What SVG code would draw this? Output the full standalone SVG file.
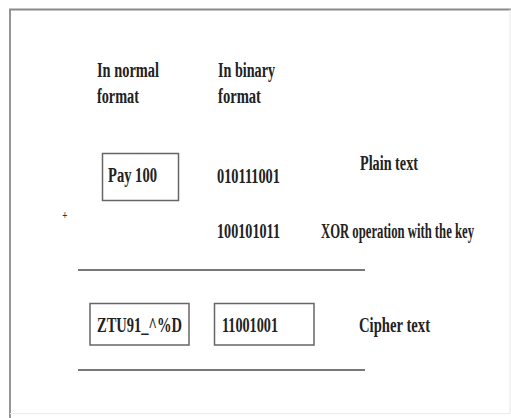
<svg xmlns="http://www.w3.org/2000/svg" width="511" height="418" viewBox="0 0 511 418">
<style>
  text { font-family: "Liberation Serif", "Times New Roman", serif; font-weight: bold; font-size: 20px; fill: #222; }
  .box { fill: #fff; stroke: #666; stroke-width: 1.5; }
  .rule { stroke: #777; stroke-width: 2; fill: none; }
</style>
<rect x="0" y="0" width="511" height="418" fill="#fff"/>
<g id="frame">
  <path d="M10,418 V9.5 H511" fill="none" stroke="#8a8a8a" stroke-width="1.8"/>
  <path d="M10,413.5 H510 V9.5" fill="none" stroke="#ececec" stroke-width="1.2"/>
</g>
<g id="connectors">
  <line class="rule" x1="78" y1="270" x2="365" y2="270"/>
  <line class="rule" x1="78" y1="370" x2="365" y2="370"/>
</g>
<g id="plain-box">
  <rect class="box" x="102.5" y="153.5" width="76" height="47"/>
</g>
<g id="cipher-box">
  <rect class="box" x="90" y="303.5" width="99" height="41.5"/>
</g>
<g id="cipher-binary-box">
  <rect class="box" x="214.5" y="303.5" width="99.5" height="41.5"/>
</g>
<g id="labels" transform="scale(0.75,1)">
  <g id="header-normal">
    <text x="129.3" y="77" textLength="82.7" lengthAdjust="spacingAndGlyphs">In normal</text>
    <text x="129.3" y="103" textLength="56" lengthAdjust="spacingAndGlyphs">format</text>
  </g>
  <g id="header-binary">
    <text x="290.7" y="77" textLength="76" lengthAdjust="spacingAndGlyphs">In binary</text>
    <text x="290.7" y="103" textLength="57.3" lengthAdjust="spacingAndGlyphs">format</text>
  </g>
  <g id="plain-text">
    <text x="144" y="182" textLength="65.3" lengthAdjust="spacingAndGlyphs">Pay 100</text>
  </g>
  <g id="plain-binary">
    <text x="289.3" y="183" textLength="84" lengthAdjust="spacingAndGlyphs">010111001</text>
  </g>
  <g id="plain-label">
    <text x="480" y="170" textLength="77.3" lengthAdjust="spacingAndGlyphs">Plain text</text>
  </g>
  <g id="plus">
    <text x="83" y="219" style="font-size:12px;fill:#333">+</text>
  </g>
  <g id="key-binary">
    <text x="289.3" y="238" textLength="84" lengthAdjust="spacingAndGlyphs">100101011</text>
  </g>
  <g id="key-label">
    <text x="428" y="238" textLength="204" lengthAdjust="spacingAndGlyphs">XOR operation with the key</text>
  </g>
  <g id="cipher-text">
    <text x="129.3" y="332" textLength="113.3" lengthAdjust="spacingAndGlyphs">ZTU91_^%D</text>
  </g>
  <g id="cipher-binary">
    <text x="296" y="332" textLength="74.7" lengthAdjust="spacingAndGlyphs">11001001</text>
  </g>
  <g id="cipher-label">
    <text x="478.7" y="332" textLength="94.7" lengthAdjust="spacingAndGlyphs">Cipher text</text>
  </g>
</g>
</svg>
